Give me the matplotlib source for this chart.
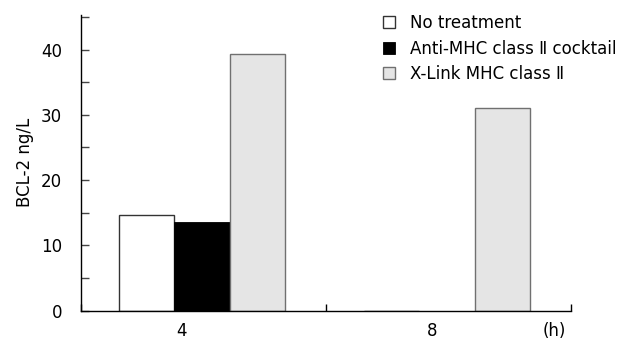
import matplotlib
matplotlib.use("Agg")
import matplotlib.pyplot as plt
import numpy as np

# Data
hours = ["4", "8"]
series_names = ["No treatment", "Anti-MHC class \u2161 cocktail", "X-Link MHC class \u2161"]
no_treatment = [14.7, 0.0]
anti_mhc = [13.6, 0.0]
xlink_mhc = [39.3, 31.1]
y_label = "BCL-2 ng/L"
unit_label = "(h)"

plt.rcParams['font.family'] = ['DejaVu Sans', 'Noto Sans CJK SC']
FS = 12

fig = plt.figure(figsize=(6.22, 3.39), dpi=100)
ax = fig.add_axes([81/622, 1 - 310.5/339, (571-81)/622, (310.5-15)/339])

group_centers = np.array([0.494, 1.494])
w = 0.226
b1 = ax.bar(group_centers - w, no_treatment, width=w, color="white",
            edgecolor="#333333", linewidth=1.0, label=series_names[0])
b2 = ax.bar(group_centers, anti_mhc, width=w, color="black",
            edgecolor="black", linewidth=0.6, label=series_names[1])
b3 = ax.bar(group_centers + w, xlink_mhc, width=w, color="#e5e5e5",
            edgecolor="#707070", linewidth=1.0, label=series_names[2])

ax.set_xlim(0, 2)
ax.set_ylim(0, 45.3)

for s in ["top", "right"]:
    ax.spines[s].set_visible(False)
for s in ["left", "bottom"]:
    ax.spines[s].set_linewidth(1.0)
    ax.spines[s].set_color("black")
    ax.spines[s].set_zorder(5)

ax.set_yticks([0, 10, 20, 30, 40])
ax.set_yticks([5, 15, 25, 35, 45], minor=True)
ax.tick_params(axis="y", which="both", direction="in", length=5.5, width=1.0,
               labelsize=FS, pad=13.5, color="#444444")

ax.set_xticks([0, 1, 2])
ax.set_xticklabels(["", "", ""])
ax.tick_params(axis="x", which="major", direction="in", length=5, width=1.0)
ax.set_xticks([0.412, 1.433, 1.93], minor=True)
ax.set_xticklabels(hours + [unit_label], minor=True)
ax.tick_params(axis="x", which="minor", length=0, labelsize=FS, pad=8.5)

ax.set_ylabel(y_label, fontsize=FS, labelpad=5)

leg = ax.legend(handles=[b1, b2, b3], loc="upper left",
                bbox_to_anchor=(383/622, 1 - 14/339), bbox_transform=fig.transFigure,
                frameon=False, fontsize=FS, handlelength=0.75, handleheight=0.75,
                handletextpad=0.85, labelspacing=0.45, borderpad=0, borderaxespad=0)

fig.savefig("out.png", dpi=100)
